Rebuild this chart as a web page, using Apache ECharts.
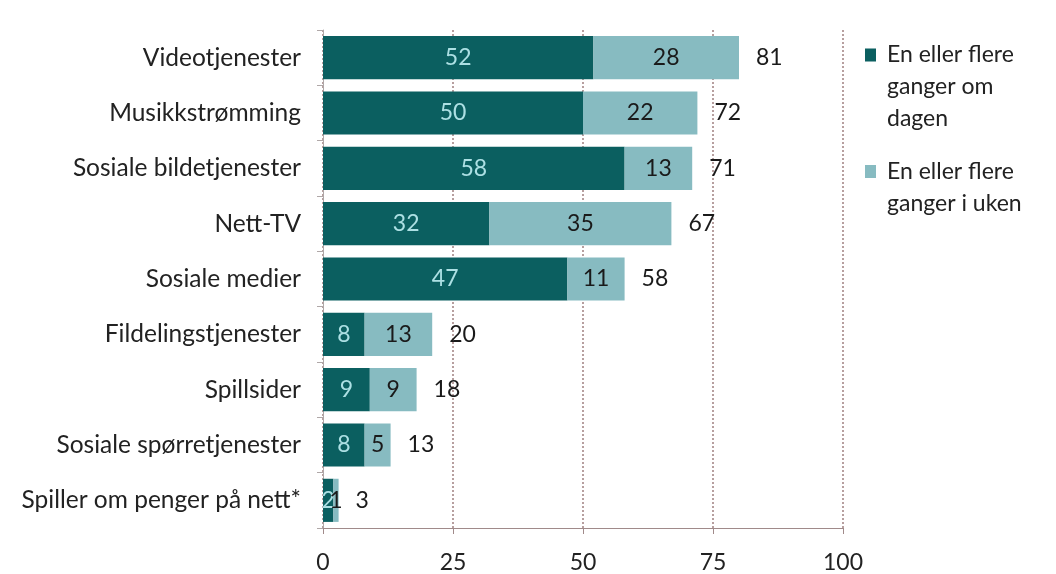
<!DOCTYPE html>
<html>
<head>
<meta charset="utf-8">
<script src="https://cdn.jsdelivr.net/npm/echarts@6/dist/echarts.min.js"></script>
<style>html,body{margin:0;padding:0;background:#fff;}#c{width:1056px;height:574px;}</style>
</head>
<body>
<div id="c"></div>
<script>
const categories = ['Videotjenester','Musikkstrømming','Sosiale bildetjenester','Nett-TV','Sosiale medier','Fildelingstjenester','Spillsider','Sosiale spørretjenester','Spiller om penger på nett*'];
const dagen = [52, 50, 58, 32, 47, 8, 9, 8, 2];
const uken = [28, 22, 13, 35, 11, 13, 9, 5, 1];
const totals = [81, 72, 71, 67, 58, 20, 18, 13, 3];
const xTicks = [0, 25, 50, 75, 100];
const seriesNames = ['En eller flere ganger om dagen', 'En eller flere ganger i uken'];
const legendText = {
  'En eller flere ganger om dagen': 'En eller flere\nganger om\ndagen',
  'En eller flere ganger i uken': 'En eller flere\nganger i uken'
};

const FONT = 'Lato';
const FS = 23;
const chart = echarts.init(document.getElementById('c'));
chart.setOption({
  backgroundColor: '#ffffff',
  textStyle: { fontFamily: FONT },
  grid: { left: 323, right: 213, top: 30, bottom: 44, containLabel: false },
  legend: {
    orient: 'vertical',
    left: 865,
    top: 39,
    padding: 0,
    itemWidth: 17,
    itemHeight: 77,
    itemGap: 14,
    formatter: n => legendText[n],
    textStyle: { fontFamily: FONT, fontSize: FS, color: '#222', lineHeight: 32 },
    data: [
      { name: seriesNames[0], icon: 'path://M0,0L11,0L11,13L0,13Z M17,77L17,77' },
      { name: seriesNames[1], icon: 'path://M0,16L11,16L11,29L0,29Z M0,0L0,0 M17,77L17,77' }
    ]
  },
  xAxis: {
    type: 'value',
    min: 0, max: 100, interval: 25,
    axisLine: { show: true, lineStyle: { color: '#a08a8a', width: 1 } },
    axisTick: { show: true, length: 6, lineStyle: { color: '#a08a8a' } },
    axisLabel: {
      fontFamily: FONT, fontSize: FS, color: '#222', margin: 23,
      formatter: v => xTicks.includes(v) ? String(v) : ''
    },
    splitLine: { show: true, lineStyle: { color: '#a08080', type: [2, 2], width: 1.5 } }
  },
  yAxis: {
    type: 'category',
    data: categories,
    inverse: true,
    axisLine: { show: true, lineStyle: { color: '#b0a8a8', width: 1 } },
    axisTick: { show: true, length: 6, lineStyle: { color: '#b0a8a8' } },
    axisLabel: { fontFamily: FONT, fontSize: 24.5, color: '#222', margin: 22 }
  },
  series: [
    {
      name: seriesNames[0],
      type: 'bar',
      stack: 'a',
      barCategoryGap: '22%',
      data: dagen,
      itemStyle: { color: '#0b5f60' },
      label: { show: true, position: 'inside', color: '#ade0e4', fontFamily: FONT, fontSize: FS }
    },
    {
      name: seriesNames[1],
      type: 'bar',
      stack: 'a',
      barCategoryGap: '22%',
      data: uken,
      itemStyle: { color: '#87bbc1' },
      label: { show: true, position: 'inside', color: '#1a1a1a', fontFamily: FONT, fontSize: FS }
    },
    {
      name: 'total',
      type: 'bar',
      stack: 'a',
      data: totals.map(() => 0),
      itemStyle: { color: 'transparent' },
      silent: true,
      label: {
        show: true, position: 'right', distance: 17,
        color: '#1a1a1a', fontFamily: FONT, fontSize: FS,
        formatter: p => String(totals[p.dataIndex])
      }
    }
  ]
});
</script>
</body>
</html>
